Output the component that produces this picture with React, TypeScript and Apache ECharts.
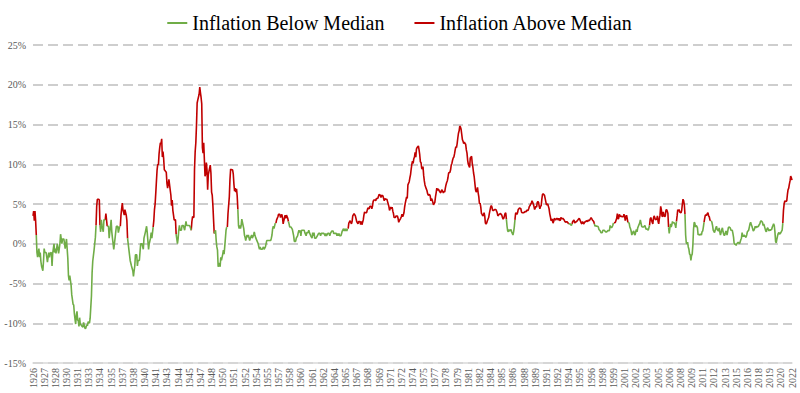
import React, { useEffect, useRef } from "react";
import * as echarts from "echarts";

const START_YEAR = 1926;
const SERIES_BELOW = "Inflation Below Median";
const SERIES_ABOVE = "Inflation Above Median";

// Monthly year-over-year inflation (%)
const inflation1926to1935 = [
  3.5, 4.1, 2.9, 4.1, 2.9, 1.1, -1.1, -1.7, -1.1, -0.6, -1.7, -1.1,
  -2.2, -2.8, -2.8, -3.4, -2.2, -0.6, -1.1, -1.1, -1.1, -1.1, -2.3, -2.3,
  -1.1, -1.7, -1.2, -1.2, -1.1, -2.8, -1.2, -0.6, 0, -1.1, -0.6, -1.2,
  -1.2, 0, -0.6, -1.2, -1.2, 0, 1.2, 1.2, 0, 0.6, 0.6, 0.6,
  0, -0.6, -0.6, 0.6, -0.6, -1.8, -4.0, -4.6, -4.0, -4.6, -5.2, -6.4,
  -7.0, -7.6, -7.7, -8.8, -9.5, -10.1, -9.0, -8.5, -9.6, -9.7, -10.4, -9.3,
  -10.1, -10.2, -10.3, -10.3, -10.5, -9.9, -9.9, -10.6, -10.7, -10.7, -10.2, -10.3,
  -9.8, -9.9, -10.0, -9.4, -8.0, -6.6, -3.7, -2.2, -1.5, -0.8, 0, 0.8,
  2.3, 4.7, 5.6, 5.6, 5.6, 5.5, 2.3, 1.5, 3.0, 2.3, 2.3, 1.5,
  3.0, 3.0, 3.0, 3.8, 3.8, 2.2, 2.2, 2.2, 0.7, 1.5, 2.2, 3.0,
];
const inflation1936to1945 = [
  1.5, 0.7, 0, -0.7, -0.7, 0.7, 1.5, 2.2, 2.2, 2.2, 1.4, 1.4,
  2.2, 2.2, 3.6, 4.4, 5.1, 4.3, 4.3, 3.6, 4.3, 4.3, 3.6, 2.9,
  0.7, 0, -0.7, -0.7, -2.1, -2.1, -2.8, -2.8, -3.4, -4.1, -3.4, -2.8,
  -1.4, -1.4, -1.4, -2.8, -2.1, -2.1, -2.1, -2.1, 0, 0, 0, 0,
  -0.7, 0.7, 0.7, 1.4, 1.4, 2.2, 1.4, 1.4, -0.7, 0, 0, 0.7,
  1.4, 0.7, 1.4, 2.1, 2.9, 4.3, 5.0, 6.4, 7.9, 9.3, 10.0, 9.9,
  11.3, 12.1, 12.7, 12.6, 13.2, 10.9, 11.6, 10.7, 9.3, 9.2, 9.1, 9.0,
  7.6, 7.0, 7.5, 8.1, 7.4, 7.4, 6.1, 4.8, 5.5, 4.2, 3.6, 3.0,
  3.0, 3.0, 1.2, 0.6, 0, 0.6, 1.7, 2.3, 1.7, 1.7, 1.7, 2.3,
  2.3, 2.3, 2.3, 1.7, 2.3, 2.8, 2.3, 2.3, 2.3, 2.3, 2.3, 2.2,
];
const inflation1946to1955 = [
  2.2, 1.7, 2.8, 3.4, 3.4, 3.3, 9.4, 11.6, 12.7, 14.9, 17.7, 18.1,
  18.1, 18.8, 19.7, 19.0, 18.4, 17.6, 12.1, 11.4, 12.7, 10.6, 8.5, 8.8,
  10.2, 9.3, 6.8, 8.7, 9.1, 9.5, 9.9, 8.9, 6.5, 6.1, 4.8, 3.0,
  1.3, 1.3, 1.7, 0.4, -0.4, -0.8, -2.9, -2.9, -2.4, -2.9, -1.7, -2.1,
  -2.1, -1.3, -0.8, -1.3, -0.4, -0.4, 1.7, 2.1, 2.1, 3.8, 3.8, 5.9,
  8.1, 9.4, 9.3, 9.3, 9.3, 8.8, 7.5, 6.6, 7.0, 6.5, 6.9, 6.0,
  4.3, 2.3, 1.9, 2.3, 1.9, 2.3, 3.1, 3.1, 2.3, 1.9, 1.1, 0.8,
  0.4, 0.8, 1.1, 0.8, 1.1, 1.1, 0.4, 0.7, 0.7, 1.1, 0.7, 0.7,
  1.1, 1.5, 1.1, 0.8, 0.8, 0.4, 0.4, 0, -0.4, -0.7, -0.4, -0.7,
  -0.7, -0.7, -0.7, -0.4, -0.7, -0.7, -0.4, -0.4, 0.4, 0.4, 0.4, 0.4,
];
const inflation1956to1965 = [
  0.4, 0.4, 0.4, 0.7, 1.1, 1.9, 2.2, 1.9, 1.9, 2.6, 2.6, 3.0,
  3.0, 3.4, 3.7, 3.7, 3.7, 3.3, 3.3, 3.7, 3.3, 2.5, 2.9, 2.9,
  3.6, 3.2, 3.6, 3.6, 3.2, 2.8, 2.5, 2.1, 2.1, 2.1, 2.1, 1.8,
  1.4, 1.0, 0.3, 0.3, 0.3, 0.7, 0.7, 1.0, 1.4, 1.7, 1.4, 1.7,
  1.0, 1.7, 1.7, 1.7, 1.7, 1.7, 1.4, 1.4, 1.0, 1.4, 1.4, 1.4,
  1.7, 1.4, 1.4, 1.0, 1.0, 0.7, 1.4, 1.0, 1.4, 0.7, 0.7, 0.7,
  0.7, 1.0, 1.0, 1.3, 1.3, 1.3, 1.0, 1.3, 1.3, 1.3, 1.3, 1.3,
  1.3, 1.0, 1.3, 1.0, 1.0, 1.3, 1.3, 1.3, 1.0, 1.3, 1.3, 1.6,
  1.6, 1.6, 1.3, 1.3, 1.3, 1.3, 1.3, 1.0, 1.3, 1.0, 1.3, 1.0,
  1.0, 1.0, 1.3, 1.6, 1.6, 1.9, 1.6, 1.9, 1.6, 1.9, 1.6, 1.9,
];
const inflation1966to1975 = [
  1.9, 2.6, 2.6, 2.9, 2.9, 2.5, 2.8, 3.5, 3.5, 3.8, 3.8, 3.5,
  3.5, 2.8, 2.8, 2.5, 2.8, 2.8, 2.8, 2.4, 2.8, 2.4, 2.7, 3.0,
  3.6, 4.0, 3.9, 3.9, 3.9, 4.2, 4.5, 4.5, 4.4, 4.7, 4.7, 4.7,
  4.4, 4.7, 5.3, 5.5, 5.5, 5.5, 5.4, 5.7, 5.7, 5.7, 5.9, 6.2,
  6.2, 6.1, 5.8, 6.1, 6.1, 6.0, 6.0, 5.4, 5.7, 5.6, 5.6, 5.6,
  5.3, 5.0, 4.7, 4.2, 4.4, 4.6, 4.4, 4.6, 4.1, 3.8, 3.3, 3.3,
  3.3, 3.5, 3.5, 3.5, 3.2, 2.7, 2.9, 2.9, 3.2, 3.4, 3.7, 3.4,
  3.6, 3.9, 4.6, 5.1, 5.5, 5.9, 5.7, 7.4, 7.4, 7.8, 8.3, 8.7,
  9.4, 10.0, 10.4, 10.1, 10.7, 10.9, 11.5, 10.9, 11.9, 12.1, 12.2, 12.3,
  11.8, 11.2, 10.3, 10.2, 9.5, 9.4, 9.7, 8.6, 7.9, 7.4, 7.4, 6.9,
];
const inflation1976to1985 = [
  6.7, 6.3, 6.1, 6.1, 6.2, 6.0, 5.4, 5.7, 5.5, 5.5, 4.9, 4.9,
  5.2, 5.9, 6.4, 7.0, 6.7, 6.9, 6.8, 6.6, 6.6, 6.4, 6.7, 6.8,
  6.8, 6.4, 6.6, 6.5, 7.0, 7.4, 7.7, 7.9, 8.3, 8.9, 8.9, 9.0,
  9.3, 9.9, 10.1, 10.5, 10.8, 10.9, 11.3, 11.8, 12.2, 12.1, 12.6, 13.3,
  13.9, 14.2, 14.8, 14.7, 14.4, 14.4, 13.1, 12.9, 12.6, 12.8, 12.6, 12.5,
  11.8, 11.4, 10.5, 10.0, 9.8, 9.6, 10.8, 10.8, 11.0, 10.1, 9.6, 8.9,
  8.4, 7.6, 6.8, 6.5, 6.7, 7.1, 6.4, 5.9, 5.0, 5.1, 4.6, 3.8,
  3.7, 3.5, 3.6, 3.9, 3.5, 2.6, 2.5, 2.6, 2.9, 2.9, 3.3, 3.8,
  4.2, 4.6, 4.8, 4.6, 4.2, 4.2, 4.2, 4.3, 4.3, 4.3, 4.1, 3.9,
  3.5, 3.5, 3.7, 3.7, 3.8, 3.8, 3.6, 3.3, 3.1, 3.2, 3.5, 3.8,
];
const inflation1986to1995 = [
  3.9, 3.1, 2.2, 1.6, 1.5, 1.8, 1.6, 1.6, 1.8, 1.5, 1.3, 1.1,
  1.5, 2.1, 3.0, 3.8, 3.9, 3.7, 3.9, 4.3, 4.4, 4.5, 4.5, 4.4,
  4.0, 3.9, 3.9, 3.9, 3.9, 4.0, 4.1, 4.0, 4.2, 4.2, 4.2, 4.4,
  4.7, 4.8, 5.0, 5.1, 5.4, 5.2, 5.0, 4.7, 4.3, 4.5, 4.7, 4.6,
  5.2, 5.3, 5.2, 4.7, 4.4, 4.7, 4.8, 5.6, 6.2, 6.3, 6.3, 6.1,
  5.7, 5.3, 4.9, 4.9, 5.0, 4.7, 4.4, 3.8, 3.4, 2.9, 3.0, 3.1,
  2.6, 2.8, 3.2, 3.2, 3.0, 3.1, 3.2, 3.1, 3.0, 3.2, 3.0, 2.9,
  3.3, 3.2, 3.1, 3.2, 3.2, 3.0, 2.8, 2.8, 2.7, 2.8, 2.7, 2.7,
  2.5, 2.5, 2.5, 2.4, 2.3, 2.5, 2.8, 2.9, 3.0, 2.6, 2.7, 2.7,
  2.8, 2.9, 2.9, 3.1, 3.2, 3.0, 2.8, 2.6, 2.5, 2.8, 2.6, 2.5,
];
const inflation1996to2005 = [
  2.7, 2.7, 2.8, 2.9, 2.9, 2.8, 3.0, 2.9, 3.0, 3.0, 3.3, 3.3,
  3.0, 3.0, 2.8, 2.5, 2.2, 2.3, 2.2, 2.2, 2.2, 2.1, 1.8, 1.7,
  1.6, 1.4, 1.4, 1.4, 1.7, 1.7, 1.7, 1.6, 1.5, 1.5, 1.5, 1.6,
  1.7, 1.6, 1.7, 2.3, 2.1, 2.0, 2.1, 2.3, 2.6, 2.6, 2.6, 2.7,
  2.7, 3.2, 3.8, 3.1, 3.2, 3.7, 3.7, 3.4, 3.5, 3.4, 3.4, 3.4,
  3.7, 3.5, 2.9, 3.3, 3.6, 3.2, 2.7, 2.7, 2.6, 2.1, 1.9, 1.6,
  1.1, 1.1, 1.5, 1.6, 1.2, 1.1, 1.5, 1.8, 1.5, 2.0, 2.2, 2.4,
  2.6, 3.0, 3.0, 2.2, 2.1, 2.1, 2.1, 2.2, 2.3, 2.0, 1.8, 1.9,
  1.9, 1.7, 1.7, 2.3, 3.1, 3.3, 3.0, 2.7, 2.5, 3.2, 3.5, 3.3,
  3.0, 3.0, 3.1, 3.5, 2.8, 2.5, 3.2, 3.6, 4.7, 4.3, 3.5, 3.4,
];
const inflation2006to2015 = [
  4.0, 3.6, 3.4, 3.5, 4.2, 4.3, 4.1, 3.8, 2.1, 1.3, 2.0, 2.5,
  2.1, 2.4, 2.8, 2.6, 2.7, 2.7, 2.4, 2.0, 2.8, 3.5, 4.3, 4.1,
  4.3, 4.0, 4.0, 3.9, 4.2, 5.0, 5.6, 5.4, 4.9, 3.7, 1.1, 0.1,
  0.0, 0.2, -0.4, -0.7, -1.3, -1.4, -2.1, -1.5, -1.3, -0.2, 1.8, 2.7,
  2.6, 2.1, 2.3, 2.2, 2.0, 1.1, 1.2, 1.1, 1.1, 1.2, 1.1, 1.5,
  1.6, 2.1, 2.7, 3.2, 3.6, 3.6, 3.6, 3.8, 3.9, 3.5, 3.4, 3.0,
  2.9, 2.9, 2.7, 2.3, 1.7, 1.7, 1.4, 1.7, 2.0, 2.2, 1.8, 1.7,
  1.6, 2.0, 1.5, 1.1, 1.4, 1.8, 2.0, 1.5, 1.2, 1.0, 1.2, 1.5,
  1.6, 1.1, 1.5, 2.0, 2.1, 2.1, 2.0, 1.7, 1.7, 1.7, 1.3, 0.8,
  -0.1, 0.0, -0.1, -0.2, 0.0, 0.1, 0.2, 0.2, 0.0, 0.2, 0.5, 0.7,
];
const inflation2016to2022 = [
  1.4, 1.0, 0.9, 1.1, 1.0, 1.0, 0.8, 1.1, 1.5, 1.6, 1.7, 2.1,
  2.5, 2.7, 2.4, 2.2, 1.9, 1.6, 1.7, 1.9, 2.2, 2.0, 2.2, 2.1,
  2.1, 2.2, 2.4, 2.5, 2.8, 2.9, 2.9, 2.7, 2.3, 2.5, 2.2, 1.9,
  1.6, 1.5, 1.9, 2.0, 1.8, 1.6, 1.8, 1.7, 1.7, 1.8, 2.1, 2.3,
  2.5, 2.3, 1.5, 0.3, 0.1, 0.6, 1.0, 1.3, 1.4, 1.2, 1.2, 1.4,
  1.4, 1.7, 2.6, 4.2, 5.0, 5.4, 5.4, 5.3, 5.4, 6.2, 6.8, 7.0,
  7.5, 7.9, 8.5, 8.3, 8.0,
];

// Periods drawn as "above median" (red)
const aboveMedianPeriods: [string, string][] = [
  ["1926-01", "1926-05"],
  ["1934-02", "1934-06"],
  ["1935-04", "1935-05"],
  ["1937-03", "1937-12"],
  ["1941-05", "1944-02"],
  ["1946-03", "1948-12"],
  ["1950-10", "1951-12"],
  ["1956-12", "1958-05"],
  ["1966-02", "1986-01"],
  ["1987-04", "1993-12"],
  ["1994-07", "1997-03"],
  ["1999-11", "2001-06"],
  ["2004-05", "2006-08"],
  ["2007-10", "2008-09"],
  ["2011-04", "2012-01"],
  ["2021-04", "2022-05"],
];

const yAxisMin = -15;
const yAxisMax = 25;
const yAxisStep = 5;

export default function App() {
  const ref = useRef<HTMLDivElement>(null);

  useEffect(() => {
    if (!ref.current) return;
    const chart = echarts.init(ref.current, undefined, { renderer: "svg" });

    const values = [
      ...inflation1926to1935,
      ...inflation1936to1945,
      ...inflation1946to1955,
      ...inflation1956to1965,
      ...inflation1966to1975,
      ...inflation1976to1985,
      ...inflation1986to1995,
      ...inflation1996to2005,
      ...inflation2006to2015,
      ...inflation2016to2022,
    ];
    const months = values.map(
      (_, i) =>
        `${START_YEAR + Math.floor(i / 12)}-${String((i % 12) + 1).padStart(2, "0")}`
    );
    const above = new Array(values.length).fill(false);
    aboveMedianPeriods.forEach(([s, e]) => {
      const a = months.indexOf(s);
      let b = months.indexOf(e);
      if (b < 0) b = values.length - 1;
      for (let i = a; i <= b; i++) above[i] = true;
    });
    const redData = values.map((v, i) =>
      above[i] || above[i - 1] || above[i + 1] ? v : null
    );
    const greenData = values.map((v, i) => (!above[i] ? v : null));

    const GREEN = "#70ad47";
    const RED = "#c00000";
    const FONT = "'Liberation Serif', 'Times New Roman', serif";

    chart.setOption({
      animation: false,
      backgroundColor: "#ffffff",
      legend: {
        data: [SERIES_BELOW, SERIES_ABOVE],
        left: "center",
        top: 8,
        icon: "rect",
        itemWidth: 20,
        itemHeight: 2,
        itemGap: 30,
        textStyle: { fontFamily: FONT, fontSize: 20, color: "#000000" },
      },
      grid: { left: 33, right: 8, top: 45, bottom: 30, containLabel: false },
      xAxis: [
        {
          type: "category",
          data: months,
          boundaryGap: false,
          axisLine: { show: false },
          axisTick: { show: false },
          axisLabel: {
            interval: 16,
            rotate: 90,
            margin: 5,
            fontFamily: FONT,
            fontSize: 10,
            color: "#595959",
            formatter: (v: string) => v.slice(0, 4),
          },
          splitLine: { show: false },
        },
        {
          type: "category",
          data: months,
          boundaryGap: false,
          position: "bottom",
          axisLine: {
            show: true,
            onZero: true,
            lineStyle: { color: "#d9d9d9", width: 1.5 },
          },
          axisTick: { show: false },
          axisLabel: { show: false },
          splitLine: { show: false },
        },
      ],
      yAxis: {
        type: "value",
        min: yAxisMin,
        max: yAxisMax,
        interval: yAxisStep,
        axisLine: { show: false },
        axisTick: { show: false },
        axisLabel: {
          formatter: "{value}%",
          fontFamily: FONT,
          fontSize: 10,
          color: "#595959",
          margin: 7,
        },
        splitLine: {
          show: true,
          lineStyle: { color: "#bfbfbf", width: 1.5, type: [10, 5] },
        },
      },
      series: [
        {
          name: SERIES_ABOVE,
          type: "line",
          data: redData,
          symbol: "none",
          showSymbol: false,
          connectNulls: false,
          color: RED,
          lineStyle: { color: RED, width: 1.6 },
          itemStyle: { color: RED },
          z: 3,
        },
        {
          name: SERIES_BELOW,
          type: "line",
          data: greenData,
          symbol: "none",
          showSymbol: false,
          connectNulls: false,
          color: GREEN,
          lineStyle: { color: GREEN, width: 1.6 },
          itemStyle: { color: GREEN },
          z: 4,
        },
      ],
    });

    return () => chart.dispose();
  }, []);

  return (
    <div
      ref={ref}
      style={{ position: "fixed", left: 0, top: 0, width: 800, height: 393 }}
    />
  );
}
